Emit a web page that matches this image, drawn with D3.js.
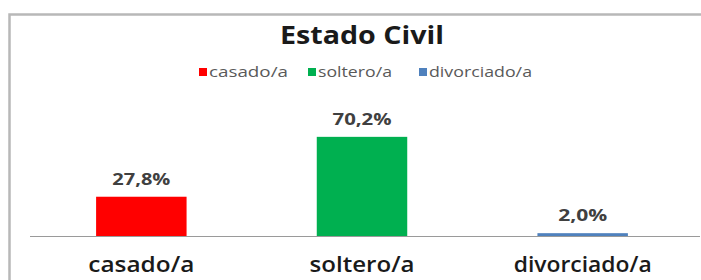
<!DOCTYPE html>
<html>
<head>
<meta charset="utf-8">
<title>Estado Civil</title>
<script src="https://d3js.org/d3.v7.min.js"></script>
<style>
  body { margin: 0; background: #fff; }
  text { font-family: "Open Sans", "Noto Sans", sans-serif; }
</style>
</head>
<body>
<script>
  // data
  var categories = ["casado/a", "soltero/a", "divorciado/a"];
  var values = [27.8, 70.2, 2.0];
  var labels = ["27,8%", "70,2%", "2,0%"];
  var colors = ["#ff0000", "#00b050", "#4f81bd"];

  // text widths as seen in the picture (the font there is wider)
  var valueWidths = [58, 59, 49];
  var catWidths = [106, 105, 138];
  var legendWidths = [79, 74, 103];

  var w = 701, h = 280;

  var svg = d3.select("body").append("svg")
      .attr("width", w)
      .attr("height", h);

  // chart frame
  svg.append("rect")
      .attr("x", 9.5).attr("y", 14.5)
      .attr("width", 720).attr("height", 300)
      .attr("fill", "#fff")
      .attr("stroke", "#b8b8b8")
      .attr("stroke-width", 2.5);

  // title
  svg.append("text")
      .attr("x", 362).attr("y", 44)
      .attr("text-anchor", "middle")
      .attr("font-size", 25)
      .attr("font-weight", "bold")
      .attr("fill", "#1a1a1a")
      .attr("textLength", 164)
      .attr("lengthAdjust", "spacingAndGlyphs")
      .text("Estado Civil");

  var x = d3.scaleBand()
      .domain(categories)
      .range([31, 693])
      .paddingInner(0.59)
      .paddingOuter(0.295);

  var y = d3.scaleLinear()
      .domain([0, 80])
      .range([236, 123]);

  // axis line
  svg.append("line")
      .attr("x1", 30).attr("x2", 700)
      .attr("y1", y(0) + 0.5).attr("y2", y(0) + 0.5)
      .attr("stroke", "#9a9a9a")
      .attr("stroke-width", 1);

  // bars
  svg.selectAll("rect.bar")
      .data(values)
    .enter().append("rect")
      .attr("class", "bar")
      .attr("x", function(d, i) { return x(categories[i]); })
      .attr("y", function(d) { return y(d); })
      .attr("width", x.bandwidth())
      .attr("height", function(d) { return y(0) - y(d); })
      .attr("fill", function(d, i) { return colors[i]; });

  // value labels
  svg.selectAll("text.val")
      .data(values)
    .enter().append("text")
      .attr("class", "val")
      .attr("x", function(d, i) { return x(categories[i]) + x.bandwidth() / 2; })
      .attr("y", function(d) { return y(d) - 12; })
      .attr("text-anchor", "middle")
      .attr("font-size", 16)
      .attr("font-weight", "bold")
      .attr("fill", "#404040")
      .attr("textLength", function(d, i) { return valueWidths[i]; })
      .attr("lengthAdjust", "spacingAndGlyphs")
      .text(function(d, i) { return labels[i]; });

  // category labels
  svg.selectAll("text.cat")
      .data(categories)
    .enter().append("text")
      .attr("class", "cat")
      .attr("x", function(d) { return x(d) + x.bandwidth() / 2; })
      .attr("y", 272)
      .attr("text-anchor", "middle")
      .attr("font-size", 21)
      .attr("font-weight", 600)
      .attr("fill", "#1a1a1a")
      .attr("textLength", function(d, i) { return catWidths[i]; })
      .attr("lengthAdjust", "spacingAndGlyphs")
      .text(function(d) { return d; });

  // legend
  var legendX = [199, 308, 419];
  var legend = svg.selectAll("g.legend")
      .data(categories)
    .enter().append("g")
      .attr("class", "legend")
      .attr("transform", function(d, i) { return "translate(" + legendX[i] + ",72)"; });

  legend.append("rect")
      .attr("x", 0).attr("y", -4)
      .attr("width", 8).attr("height", 8)
      .attr("fill", function(d, i) { return colors[i]; });

  legend.append("text")
      .attr("x", 10).attr("y", 5)
      .attr("font-size", 14)
      .attr("fill", "#595959")
      .attr("textLength", function(d, i) { return legendWidths[i]; })
      .attr("lengthAdjust", "spacingAndGlyphs")
      .text(function(d) { return d; });
</script>
</body>
</html>
